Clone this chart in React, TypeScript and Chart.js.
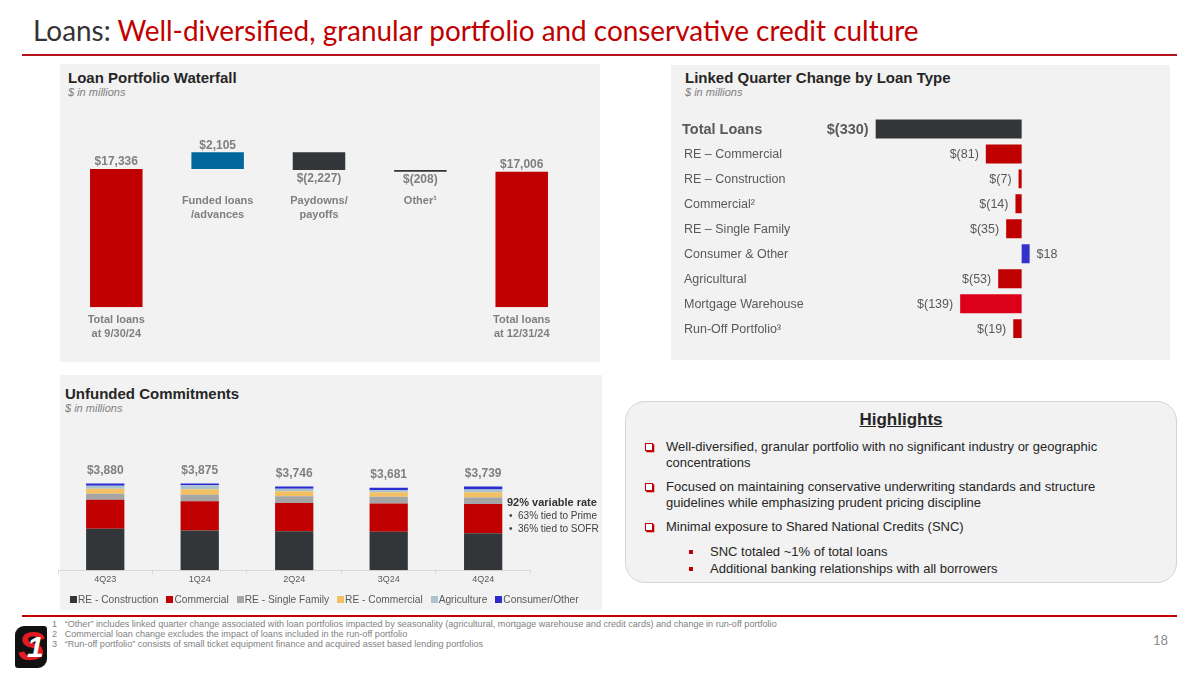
import React, { useEffect, useRef } from "react";
import { Chart, registerables } from "chart.js";
Chart.register(...registerables);

const FONT = '"Liberation Sans", Arial, sans-serif';

// ---- Loan Portfolio Waterfall ----
const wfCategories: string[][] = [
  ["Total loans", "at 9/30/24"],
  ["Funded loans", "/advances"],
  ["Paydowns/", "payoffs"],
  ["Other¹"],
  ["Total loans", "at 12/31/24"],
];
const wfStart = 17336;
const wfChanges = [2105, -2227, -208];
const wfEnd = 17006;
const wfColors = ["#c00000", "#00679c", "#323639", "#323639", "#c00000"];

// ---- Linked Quarter Change ----
const lqCategories = [
  "Total Loans",
  "RE – Commercial",
  "RE – Construction",
  "Commercial²",
  "RE – Single Family",
  "Consumer & Other",
  "Agricultural",
  "Mortgage Warehouse",
  "Run-Off Portfolio³",
];
const lqValues = [-330, -81, -7, -14, -35, 18, -53, -139, -19];
const lqColors = ["#323639", "#c00000", "#c00000", "#c00000", "#c00000", "#3333cc", "#c00000", "#dc0018", "#c00000"];

// ---- Unfunded Commitments ----
const ucQuarters = ["4Q23", "1Q24", "2Q24", "3Q24", "4Q24"];
const ucConstruction = [1850, 1775, 1745, 1715, 1655];
const ucCommercial = [1295, 1310, 1265, 1265, 1310];
const ucSingleFamily = [270, 290, 300, 300, 285];
const ucRECommercial = [225, 240, 225, 210, 240];
const ucAgriculture = [135, 180, 110, 90, 120];
const ucConsumer = [105, 80, 101, 101, 129];
const ucSeriesNames = ["RE - Construction", "Commercial", "RE - Single Family", "RE - Commercial", "Agriculture", "Consumer/Other"];
const ucSeriesColors = ["#323639", "#c00000", "#a5a5a5", "#f2c063", "#a9c4d0", "#2b2bd0"];

const fmt = (v: number) =>
  v < 0 ? `$(${Math.abs(v).toLocaleString("en-US")})` : `$${v.toLocaleString("en-US")}`;

function useChart(ref: React.RefObject<HTMLCanvasElement>, make: () => any) {
  useEffect(() => {
    if (!ref.current) return;
    const chart = new Chart(ref.current, make());
    return () => chart.destroy();
  }, []);
}

function Waterfall() {
  const ref = useRef<HTMLCanvasElement>(null);
  useChart(ref, () => {
    const values = [wfStart, ...wfChanges, wfEnd];
    const ranges: number[][] = [[0, wfStart]];
    let run = wfStart;
    wfChanges.forEach((c) => {
      const next = run + c;
      ranges.push([Math.min(run, next), Math.max(run, next)]);
      run = next;
    });
    ranges.push([0, wfEnd]);
    const plugin = {
      id: "wfLabels",
      afterDatasetsDraw(chart: any) {
        const ctx = chart.ctx;
        const meta = chart.getDatasetMeta(0);
        const ys = chart.scales.y;
        const ca = chart.chartArea;
        ctx.save();
        ctx.fillStyle = "#7f7f7f";
        ctx.textAlign = "center";
        ctx.textBaseline = "middle";
        meta.data.forEach((bar: any, i: number) => {
          const [lo, hi] = ranges[i];
          const v = values[i];
          ctx.font = `bold 12px ${FONT}`;
          if (v >= 0) ctx.fillText(fmt(v), bar.x, ys.getPixelForValue(hi) - 7);
          else ctx.fillText(fmt(v), bar.x, ys.getPixelForValue(lo) + 8.5);
          const isTotal = i === 0 || i === values.length - 1;
          const baseY = isTotal ? ys.getPixelForValue(0) + 13 : ca.top + 61;
          ctx.font = `bold 11px ${FONT}`;
          wfCategories[i].forEach((line, k) => ctx.fillText(line, bar.x, baseY + k * 13.8));
        });
        ctx.restore();
      },
    };
    return {
      type: "bar",
      data: {
        labels: wfCategories.map((c) => c.join(" ")),
        datasets: [
          {
            data: ranges,
            backgroundColor: wfColors,
            barPercentage: 0.518,
            categoryPercentage: 1,
          },
        ],
      },
      options: {
        animation: false,
        responsive: false,
        devicePixelRatio: 1,
        layout: { padding: { left: 5.6, right: 27.6, top: 39.8, bottom: 54.7 } },
        scales: {
          x: { display: false },
          y: { display: false, min: 0, max: 21000 },
        },
        plugins: { legend: { display: false }, tooltip: { enabled: false } },
      },
      plugins: [plugin],
    };
  });
  return <canvas ref={ref} width={540} height={262} style={{ position: "absolute", left: 60, top: 100 }} />;
}

function LinkedQuarter() {
  const ref = useRef<HTMLCanvasElement>(null);
  useChart(ref, () => {
    const plugin = {
      id: "lqLabels",
      afterDatasetsDraw(chart: any) {
        const ctx = chart.ctx;
        const meta = chart.getDatasetMeta(0);
        const xs = chart.scales.x;
        ctx.save();
        ctx.fillStyle = "#595959";
        ctx.textBaseline = "middle";
        meta.data.forEach((bar: any, i: number) => {
          const v = lqValues[i];
          const isTotal = i === 0;
          ctx.font = isTotal ? `bold 14.5px ${FONT}` : `12.5px ${FONT}`;
          ctx.textAlign = "left";
          ctx.fillText(lqCategories[i], isTotal ? 12 : 14, bar.y + 1);
          const zero = xs.getPixelForValue(0);
          const end = xs.getPixelForValue(v);
          if (v < 0) {
            ctx.textAlign = "right";
            ctx.fillText(fmt(v), Math.min(end, zero) - 7, bar.y + 1);
          } else {
            ctx.textAlign = "left";
            ctx.fillText(fmt(v), Math.max(end, zero) + 7, bar.y + 1);
          }
        });
        ctx.restore();
      },
    };
    return {
      type: "bar",
      data: {
        labels: lqCategories,
        datasets: [
          {
            data: lqValues,
            backgroundColor: lqColors,
            barPercentage: 0.76,
            categoryPercentage: 1,
          },
        ],
      },
      options: {
        indexAxis: "y",
        animation: false,
        responsive: false,
        devicePixelRatio: 1,
        layout: { padding: { left: 174.7, right: 104.1, top: 16.5, bottom: 18.9 } },
        scales: {
          x: { display: false, min: -400, max: 100 },
          y: { display: false },
        },
        plugins: { legend: { display: false }, tooltip: { enabled: false } },
      },
      plugins: [plugin],
    };
  });
  return <canvas ref={ref} width={500} height={260} style={{ position: "absolute", left: 670, top: 100 }} />;
}

function Unfunded() {
  const ref = useRef<HTMLCanvasElement>(null);
  useChart(ref, () => {
    const series = [ucConstruction, ucCommercial, ucSingleFamily, ucRECommercial, ucAgriculture, ucConsumer];
    const plugin = {
      id: "ucTotals",
      afterDatasetsDraw(chart: any) {
        const ctx = chart.ctx;
        const ys = chart.scales.y;
        const meta = chart.getDatasetMeta(0);
        ctx.save();
        ctx.fillStyle = "#7f7f7f";
        ctx.textAlign = "center";
        ctx.textBaseline = "middle";
        ctx.font = `bold 12px ${FONT}`;
        meta.data.forEach((bar: any, i: number) => {
          const total = series.reduce((s, arr) => s + arr[i], 0);
          ctx.fillText(fmt(total), bar.x, ys.getPixelForValue(total) - 13);
        });
        ctx.restore();
      },
    };
    return {
      type: "bar",
      data: {
        labels: ucQuarters,
        datasets: series.map((d, k) => ({
          label: ucSeriesNames[k],
          data: d,
          backgroundColor: ucSeriesColors[k],
          barPercentage: 0.405,
          categoryPercentage: 1,
        })),
      },
      options: {
        animation: false,
        responsive: false,
        devicePixelRatio: 1,
        layout: { padding: { left: 8, right: 69.6, top: 16, bottom: 25 } },
        scales: {
          x: {
            stacked: true,
            grid: { display: true, offset: true, drawOnChartArea: false, drawTicks: true, tickLength: 4, color: "#d9d9d9" },
            border: { display: true, color: "#d9d9d9" },
            ticks: { color: "#595959", font: { size: 9, family: FONT }, padding: 0 },
          },
          y: { display: false, stacked: true, min: 0, max: 6000 },
        },
        plugins: { legend: { display: false }, tooltip: { enabled: false } },
      },
      plugins: [plugin],
    };
  });
  return <canvas ref={ref} width={550} height={190} style={{ position: "absolute", left: 50, top: 420 }} />;
}

const abs = (l: number, t: number, extra: React.CSSProperties = {}): React.CSSProperties => ({
  position: "absolute",
  left: l,
  top: t,
  whiteSpace: "nowrap",
  ...extra,
});

function HollowBullet({ x, y }: { x: number; y: number }) {
  return (
    <div
      style={abs(x, y, {
        width: 6,
        height: 6,
        border: "1.3px solid #c00000",
        boxShadow: "1.3px 1.3px 0 #c00000",
        background: "#fff",
      })}
    />
  );
}

export default function App() {
  const hl: React.CSSProperties = { fontFamily: FONT, fontSize: 13, color: "#262626" };
  const foot: React.CSSProperties = { fontFamily: '"Liberation Sans Narrow", "Liberation Sans", Arial', fontSize: 9.1, color: "#7f7f7f" };
  return (
    <div style={{ position: "absolute", left: 0, top: 0, width: 1200, height: 675, background: "#fff", overflow: "hidden", fontFamily: FONT }}>
      {/* title */}
      <div
        style={abs(33, 12, {
          fontFamily: "Lato, sans-serif",
          fontSize: 29,
          color: "#333",
          transform: "scaleX(0.962)",
          transformOrigin: "left top",
        })}
      >
        Loans: <span style={{ color: "#c00000" }}>Well-diversified, granular portfolio and conservative credit culture</span>
      </div>
      <div style={abs(22, 54, { width: 1155, height: 2, background: "#b5121b" })} />

      {/* panels */}
      <div style={abs(60, 64, { width: 540, height: 298, background: "#f2f2f2" })} />
      <div style={abs(671, 65, { width: 499, height: 295, background: "#f2f2f2" })} />
      <div style={abs(60, 375, { width: 542, height: 235, background: "#f2f2f2" })} />

      <div style={abs(68, 69, { fontWeight: "bold", fontSize: 15, color: "#262626" })}>Loan Portfolio Waterfall</div>
      <div style={abs(68, 86, { fontStyle: "italic", fontSize: 11, color: "#7f7f7f" })}>$ in millions</div>
      <div style={abs(685, 69, { fontWeight: "bold", fontSize: 15, color: "#262626" })}>Linked Quarter Change by Loan Type</div>
      <div style={abs(685, 86, { fontStyle: "italic", fontSize: 11, color: "#7f7f7f" })}>$ in millions</div>
      <div style={abs(65, 385, { fontWeight: "bold", fontSize: 15, color: "#262626" })}>Unfunded Commitments</div>
      <div style={abs(65, 402, { fontStyle: "italic", fontSize: 11, color: "#7f7f7f" })}>$ in millions</div>

      <Waterfall />
      <LinkedQuarter />
      <Unfunded />

      {/* variable rate note */}
      <div style={abs(507, 496, { fontWeight: "bold", fontSize: 11, color: "#333" })}>92% variable rate</div>
      <div style={abs(509, 510, { fontSize: 10, color: "#404040" })}>•&nbsp;&nbsp;63% tied to Prime</div>
      <div style={abs(509, 523, { fontSize: 10, color: "#404040" })}>•&nbsp;&nbsp;36% tied to SOFR</div>

      {/* legend */}
      <div style={abs(70, 594, { display: "flex", gap: 8, fontSize: 10.2, color: "#595959" })}>
        {ucSeriesNames.map((n, k) => (
          <div key={n} style={{ display: "flex", alignItems: "center", gap: 1 }}>
            <span style={{ display: "inline-block", width: 7, height: 7, background: ucSeriesColors[k] }} />
            <span>{n}</span>
          </div>
        ))}
      </div>

      {/* highlights */}
      <div
        style={abs(625, 401, {
          width: 552,
          height: 182,
          boxSizing: "border-box",
          border: "1.5px solid #d4d4d4",
          borderRadius: 20,
          background: "#f2f2f2",
        })}
      />
      <div style={abs(625, 410, { width: 552, textAlign: "center", fontWeight: "bold", fontSize: 17, color: "#262626", textDecoration: "underline" })}>
        Highlights
      </div>
      <HollowBullet x={645} y={443} />
      <div style={abs(666, 439, { ...hl, lineHeight: "16px" })}>
        Well-diversified, granular portfolio with no significant industry or geographic
        <br />
        concentrations
      </div>
      <HollowBullet x={645} y={483} />
      <div style={abs(666, 479, { ...hl, lineHeight: "16px" })}>
        Focused on maintaining conservative underwriting standards and structure
        <br />
        guidelines while emphasizing prudent pricing discipline
      </div>
      <HollowBullet x={645} y={523} />
      <div style={abs(666, 519, { ...hl, lineHeight: "16px" })}>Minimal exposure to Shared National Credits (SNC)</div>
      <div style={abs(689, 550, { width: 4, height: 4, background: "#c00000" })} />
      <div style={abs(710, 544, { ...hl, lineHeight: "16px" })}>SNC totaled ~1% of total loans</div>
      <div style={abs(689, 567, { width: 4, height: 4, background: "#c00000" })} />
      <div style={abs(710, 561, { ...hl, lineHeight: "16px" })}>Additional banking relationships with all borrowers</div>

      {/* bottom line & footnotes */}
      <div style={abs(22, 615, { width: 1155, height: 1.5, background: "#c00000" })} />
      <div style={abs(52, 619, { ...foot, lineHeight: "10px" })}>
        <div>1&nbsp;&nbsp;&nbsp;“Other” includes linked quarter change associated with loan portfolios impacted by seasonality (agricultural, mortgage warehouse and credit cards) and change in run-off portfolio</div>
        <div>2&nbsp;&nbsp;&nbsp;Commercial loan change excludes the impact of loans included in the run-off portfolio</div>
        <div>3&nbsp;&nbsp;&nbsp;“Run-off portfolio” consists of small ticket equipment finance and acquired asset based lending portfolios</div>
      </div>
      <div style={abs(1153, 632, { fontFamily: "Lato, sans-serif", fontSize: 13, color: "#8c8c8c" })}>18</div>

      {/* logo */}
      <div style={abs(15, 626, { width: 32, height: 42, background: "#111", borderRadius: "9px 3px 9px 3px", overflow: "hidden" })}>
        <div style={abs(3, -2, { fontFamily: FONT, fontWeight: "bold", fontStyle: "italic", fontSize: 40, color: "#e31b23", lineHeight: "44px" })}>S</div>
        <div style={abs(12, 4, { fontFamily: FONT, fontWeight: "bold", fontStyle: "italic", fontSize: 30, color: "#fff", lineHeight: "34px" })}>1</div>
      </div>
    </div>
  );
}
